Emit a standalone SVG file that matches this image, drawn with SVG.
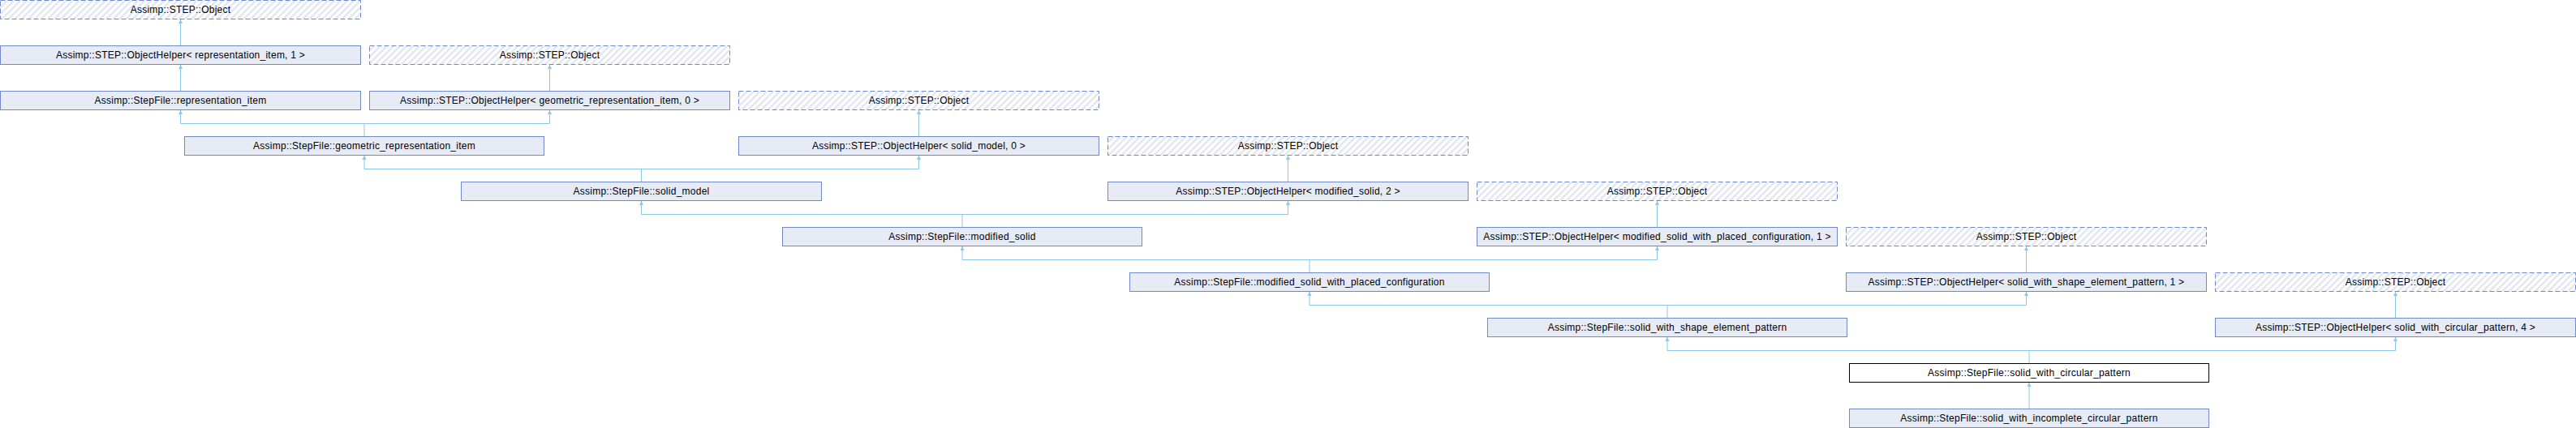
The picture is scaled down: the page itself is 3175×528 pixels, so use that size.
<svg xmlns="http://www.w3.org/2000/svg" width="3175" height="528" viewBox="0 0 3175 528">
<style>
.n rect{fill:#E7EBF5;stroke:#7189C6;stroke-width:1}
.u rect{fill:url(#hatch);stroke:#7189C6;stroke-width:1;stroke-dasharray:6,3}
.c rect{fill:#FFFFFF;stroke:#000000;stroke-width:1}
text{font-family:"Liberation Sans",Arial,sans-serif;font-size:12px;letter-spacing:0.25px;fill:#000;text-anchor:middle}
.e path{fill:none;stroke:#8DC6E6;stroke-width:1;marker-end:url(#arr)}
.e line{stroke:#8DC6E6;stroke-width:1}
</style>
<defs>
<pattern id="hatch" patternUnits="userSpaceOnUse" width="5.7" height="5.7" patternTransform="rotate(45)">
<rect x="0" y="0" width="5.7" height="5.7" fill="#FFFFFF"/>
<rect x="0" y="0" width="2.4" height="5.7" fill="#E1E6F0"/>
</pattern>
<marker id="arr" markerWidth="6" markerHeight="6" refX="5" refY="3" orient="auto" markerUnits="userSpaceOnUse">
<path d="M0,0.5 L5,3 L0,5.5 Z" fill="#8DC6E6" stroke="none"/>
</marker>
</defs>
<g id="connectors" class="e">
<path d="M222.5,56 V24"/>
<path d="M222.5,112 V80"/>
<path d="M677.5,112 V80"/>
<line x1="449" y1="168" x2="449" y2="152.5"/>
<line x1="222.5" y1="152.5" x2="677.5" y2="152.5"/>
<path d="M222.5,152.5 V136"/>
<path d="M677.5,152.5 V136"/>
<path d="M1132.5,168 V136"/>
<line x1="790.5" y1="224" x2="790.5" y2="208.5"/>
<line x1="449" y1="208.5" x2="1132.5" y2="208.5"/>
<path d="M449,208.5 V192"/>
<path d="M1132.5,208.5 V192"/>
<path d="M1587.5,224 V192"/>
<line x1="1186" y1="280" x2="1186" y2="264.5"/>
<line x1="790.5" y1="264.5" x2="1587.5" y2="264.5"/>
<path d="M790.5,264.5 V248"/>
<path d="M1587.5,264.5 V248"/>
<path d="M2042.5,280 V248"/>
<line x1="1614" y1="336" x2="1614" y2="320.5"/>
<line x1="1186" y1="320.5" x2="2042.5" y2="320.5"/>
<path d="M1186,320.5 V304"/>
<path d="M2042.5,320.5 V304"/>
<path d="M2497.5,336 V304"/>
<line x1="2055" y1="392" x2="2055" y2="376.5"/>
<line x1="1614" y1="376.5" x2="2497.5" y2="376.5"/>
<path d="M1614,376.5 V360"/>
<path d="M2497.5,376.5 V360"/>
<path d="M2952.5,392 V360"/>
<line x1="2501" y1="448" x2="2501" y2="432.5"/>
<line x1="2055" y1="432.5" x2="2952.5" y2="432.5"/>
<path d="M2055,432.5 V416"/>
<path d="M2952.5,432.5 V416"/>
<path d="M2501,504 V472"/>
</g>
<g id="obj0" class="u"><rect x="0.5" y="0.5" width="444" height="23"/><text x="222.5" y="16">Assimp::STEP::Object</text></g>
<g id="oh_rep" class="n"><rect x="0.5" y="56.5" width="444" height="23"/><text x="222.5" y="72">Assimp::STEP::ObjectHelper&lt; representation_item, 1 &gt;</text></g>
<g id="obj1" class="u"><rect x="455.5" y="56.5" width="444" height="23"/><text x="677.5" y="72">Assimp::STEP::Object</text></g>
<g id="rep_item" class="n"><rect x="0.5" y="112.5" width="444" height="23"/><text x="222.5" y="128">Assimp::StepFile::representation_item</text></g>
<g id="oh_geo" class="n"><rect x="455.5" y="112.5" width="444" height="23"/><text x="677.5" y="128">Assimp::STEP::ObjectHelper&lt; geometric_representation_item, 0 &gt;</text></g>
<g id="obj2" class="u"><rect x="910.5" y="112.5" width="444" height="23"/><text x="1132.5" y="128">Assimp::STEP::Object</text></g>
<g id="geo_item" class="n"><rect x="227.5" y="168.5" width="443" height="23"/><text x="449" y="184">Assimp::StepFile::geometric_representation_item</text></g>
<g id="oh_solid_model" class="n"><rect x="910.5" y="168.5" width="444" height="23"/><text x="1132.5" y="184">Assimp::STEP::ObjectHelper&lt; solid_model, 0 &gt;</text></g>
<g id="obj3" class="u"><rect x="1365.5" y="168.5" width="444" height="23"/><text x="1587.5" y="184">Assimp::STEP::Object</text></g>
<g id="solid_model" class="n"><rect x="568.5" y="224.5" width="444" height="23"/><text x="790.5" y="240">Assimp::StepFile::solid_model</text></g>
<g id="oh_modified_solid" class="n"><rect x="1365.5" y="224.5" width="444" height="23"/><text x="1587.5" y="240">Assimp::STEP::ObjectHelper&lt; modified_solid, 2 &gt;</text></g>
<g id="obj4" class="u"><rect x="1820.5" y="224.5" width="444" height="23"/><text x="2042.5" y="240">Assimp::STEP::Object</text></g>
<g id="modified_solid" class="n"><rect x="964.5" y="280.5" width="443" height="23"/><text x="1186" y="296">Assimp::StepFile::modified_solid</text></g>
<g id="oh_mswpc" class="n"><rect x="1820.5" y="280.5" width="444" height="23"/><text x="2042.5" y="296">Assimp::STEP::ObjectHelper&lt; modified_solid_with_placed_configuration, 1 &gt;</text></g>
<g id="obj5" class="u"><rect x="2275.5" y="280.5" width="444" height="23"/><text x="2497.5" y="296">Assimp::STEP::Object</text></g>
<g id="mswpc" class="n"><rect x="1392.5" y="336.5" width="443" height="23"/><text x="1614" y="352">Assimp::StepFile::modified_solid_with_placed_configuration</text></g>
<g id="oh_swsep" class="n"><rect x="2275.5" y="336.5" width="444" height="23"/><text x="2497.5" y="352">Assimp::STEP::ObjectHelper&lt; solid_with_shape_element_pattern, 1 &gt;</text></g>
<g id="obj6" class="u"><rect x="2730.5" y="336.5" width="444" height="23"/><text x="2952.5" y="352">Assimp::STEP::Object</text></g>
<g id="swsep" class="n"><rect x="1833.5" y="392.5" width="443" height="23"/><text x="2055" y="408">Assimp::StepFile::solid_with_shape_element_pattern</text></g>
<g id="oh_swcp" class="n"><rect x="2730.5" y="392.5" width="444" height="23"/><text x="2952.5" y="408">Assimp::STEP::ObjectHelper&lt; solid_with_circular_pattern, 4 &gt;</text></g>
<g id="swcp" class="c"><rect x="2279.5" y="448.5" width="443" height="23"/><text x="2501" y="464">Assimp::StepFile::solid_with_circular_pattern</text></g>
<g id="swicp" class="n"><rect x="2279.5" y="504.5" width="443" height="23"/><text x="2501" y="520">Assimp::StepFile::solid_with_incomplete_circular_pattern</text></g>
</svg>
